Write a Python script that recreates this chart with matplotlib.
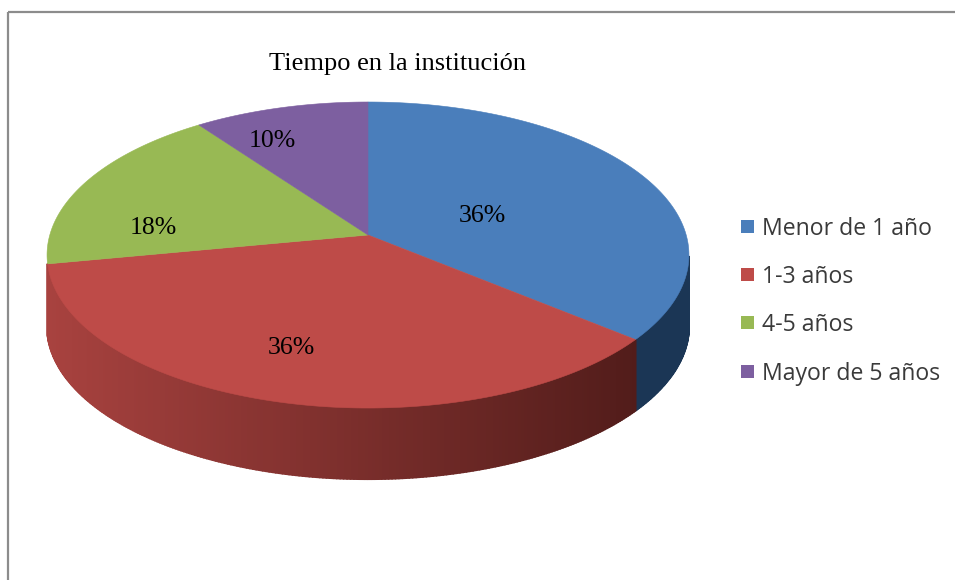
import numpy as np
import matplotlib
matplotlib.use('Agg')
import matplotlib.pyplot as plt
from matplotlib.patches import Polygon, Rectangle

title = 'Tiempo en la institución'
categories = ['Menor de 1 año', '1-3 años', '4-5 años', 'Mayor de 5 años']
values = [36, 36, 18, 10]
colors = ['#4a7ebb', '#be4b48', '#98b954', '#7d5fa0']
side_left = ['#2c5078', '#a8423f', '#6f8a3a', '#5b4476']
side_right = ['#1b3655', '#4a1917', '#4d6128', '#3d2d50']

# perspective of the pie disc, in pixels
cx, cy = 368, 235
rx, ry = 318.2, 150.4
k = 0.1308
depth = 71


def project(angle):
    # angle is clockwise from the top, in degrees
    a = np.radians(angle)
    u, v = np.sin(a), np.cos(a)
    return cx + rx * u / (1 + k * v), cy - ry * v / (1 + k * v)


fig = plt.figure(figsize=(9.55, 5.8), dpi=100)
ax = fig.add_axes([0, 0, 1, 1])
ax.set_xlim(0, 955)
ax.set_ylim(580, 0)
ax.axis('off')

# chart frame, runs off the right and bottom of the picture
ax.plot([8, 8], [580, 12], color='#8c8c8c', lw=1.6, solid_capstyle='butt')
ax.plot([8, 955], [12, 12], color='#8c8c8c', lw=1.6, solid_capstyle='butt')

edges = np.concatenate([[0], np.cumsum(values)]) / sum(values) * 360

# side wall, only the front part of the disc is seen: blue and red slices here
for i in range(2):
    angles = np.linspace(edges[i], edges[i + 1], 240)
    angles = angles[angles > 98]
    xs, ys = project(angles)
    c0 = np.array(matplotlib.colors.to_rgb(side_left[i]))
    c1 = np.array(matplotlib.colors.to_rgb(side_right[i]))
    for j in range(len(angles) - 1):
        t = (xs[j] - 48) / (688 - 48)
        col = c0 + (c1 - c0) * min(max(t, 0), 1)
        if i == 0:
            col = c1
        strip = [(xs[j], ys[j]), (xs[j + 1], ys[j + 1]),
                 (xs[j + 1], ys[j + 1] + depth), (xs[j], ys[j] + depth)]
        ax.add_patch(Polygon(strip, closed=True, fc=col, ec=col, lw=1.5,
                             joinstyle='round', capstyle='round'))

# top of the pie
for i in range(len(values)):
    angles = np.linspace(edges[i], edges[i + 1], 200)
    xs, ys = project(angles)
    pts = [(cx, cy)] + list(zip(xs, ys))
    ax.add_patch(Polygon(pts, closed=True, fc=colors[i], ec=colors[i], lw=0.4, zorder=3))

pct_pos = [(482, 216), (291, 348), (153, 228), (272, 141)]
for v, (x, y) in zip(values, pct_pos):
    ax.text(x, y, f'{v}%', ha='center', va='center', fontsize=18.5,
            family='Liberation Serif', color='black', zorder=4)

ax.text(397, 64, title, ha='center', va='center', fontsize=19,
        family='Liberation Serif', color='black')

legend_y = [229, 277, 325, 374]
for name, col, y in zip(categories, colors, legend_y):
    ax.add_patch(Rectangle((741, y - 9), 13, 13, fc=col, ec='none'))
    ax.text(762, y, name, ha='left', va='center', fontsize=16.6,
            family='Open Sans', color='#3a3a3a')

fig.savefig('out.png', dpi=100)
